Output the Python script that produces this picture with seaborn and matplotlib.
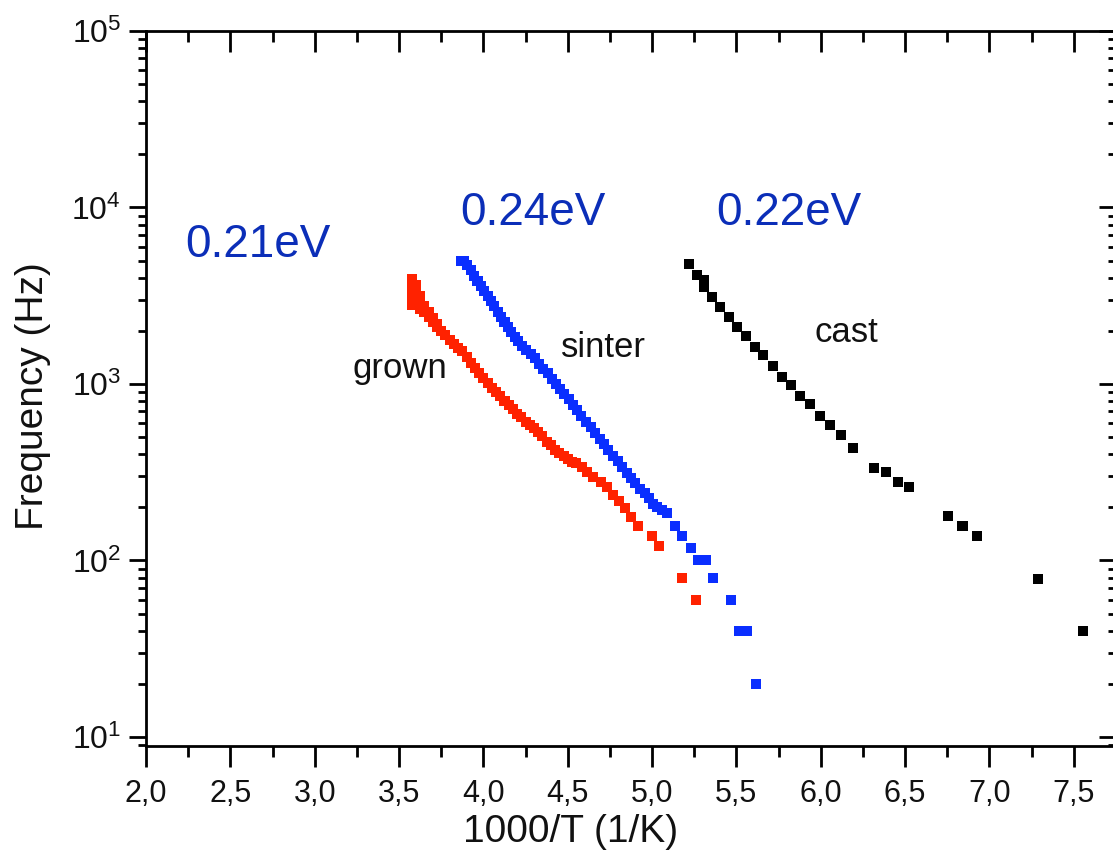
import numpy as np
import pandas as pd
import matplotlib
matplotlib.use('Agg')
import matplotlib.pyplot as plt
import matplotlib.ticker as mticker
import seaborn as sns

# grown (red)
grown_x = [3.575, 3.575, 3.575, 3.575, 3.575, 3.575,
           3.600, 3.600, 3.600, 3.600,
           3.625, 3.625, 3.625, 3.650, 3.650, 3.675, 3.675, 3.700, 3.700,
           3.725, 3.725, 3.750, 3.775, 3.800, 3.825, 3.850, 3.875, 3.900,
           3.925, 3.950, 3.975, 4.000, 4.025, 4.050, 4.075, 4.100, 4.125,
           4.150, 4.175, 4.200, 4.225, 4.250, 4.275, 4.300, 4.325, 4.350,
           4.375, 4.400, 4.425, 4.450, 4.475, 4.500, 4.525, 4.550, 4.583,
           4.615, 4.652, 4.695, 4.734, 4.770, 4.804, 4.840, 4.873, 4.914,
           5.000, 5.043, 5.175, 5.260]
grown_f = [3950, 3700, 3450, 3200, 2950, 2800,
           3650, 3350, 3100, 2850,
           3150, 2900, 2650, 2750, 2550, 2550, 2400, 2350, 2250,
           2200, 2100, 2000, 1900, 1780, 1680, 1600, 1530, 1420,
           1320, 1230, 1150, 1080, 1010, 950, 900, 850, 800,
           760, 720, 680, 650, 610, 585, 560, 535, 505,
           470, 450, 425, 405, 390, 375, 362, 355, 340,
           318, 298, 277, 262, 235, 218, 198, 177, 156,
           138, 120, 80, 60]

# sinter (blue)
sinter_x = [3.865, 3.886, 3.905, 3.925, 3.945, 3.965, 3.985, 4.005, 4.025,
            4.045, 4.065, 4.085, 4.105, 4.125, 4.145, 4.165, 4.185, 4.205,
            4.230, 4.255, 4.280, 4.305, 4.330, 4.355, 4.380, 4.405, 4.430,
            4.455, 4.480, 4.505, 4.530, 4.555, 4.580, 4.610, 4.635, 4.660,
            4.690, 4.715, 4.740, 4.770, 4.795, 4.820, 4.850, 4.875, 4.900,
            4.930, 4.955, 4.980, 5.005, 5.030, 5.060, 5.090,
            5.136, 5.179, 5.229, 5.275, 5.320, 5.363, 5.466, 5.515, 5.565, 5.616]
sinter_f = [5000, 5000, 4700, 4400, 4100, 3850, 3600, 3350, 3150,
            2950, 2750, 2550, 2400, 2250, 2100, 1980, 1850, 1750,
            1650, 1560, 1480, 1400, 1300, 1220, 1150, 1070, 1000,
            940, 880, 820, 760, 710, 660, 610, 570, 530,
            490, 455, 420, 390, 365, 340, 315, 295, 275,
            255, 240, 225, 210, 200, 192, 185,
            157, 138, 118, 100, 100, 80, 60, 40, 40, 20]

# cast (black)
cast_x = [5.22, 5.265, 5.31, 5.31, 5.355, 5.40, 5.455, 5.505, 5.555, 5.61,
          5.66, 5.715, 5.77, 5.825, 5.875, 5.935, 5.995, 6.055, 6.12, 6.19,
          6.315, 6.385, 6.455, 6.525, 6.755, 6.84, 6.925, 7.285, 7.555]
cast_f = [4800, 4150, 3900, 3550, 3130, 2740, 2390, 2100, 1870, 1630,
          1460, 1270, 1100, 985, 855, 770, 660, 585, 512, 435,
          335, 317, 280, 260, 178, 156, 137, 79, 40]

energies = ['0.21eV', '0.24eV', '0.22eV']
energy_pos = [(2.664, 6100), (4.294, 9300), (5.811, 9300)]
names = ['grown', 'sinter', 'cast']
name_pos = [(3.506, 1230), (4.709, 1600), (6.149, 1970)]

df = pd.concat([
    pd.DataFrame({'x': grown_x, 'f': grown_f, 'sample': 'grown'}),
    pd.DataFrame({'x': sinter_x, 'f': sinter_f, 'sample': 'sinter'}),
    pd.DataFrame({'x': cast_x, 'f': cast_f, 'sample': 'cast'}),
])

sns.set_theme(style='ticks')
plt.rcParams['font.family'] = ['Liberation Sans', 'DejaVu Sans']
plt.rcParams['mathtext.default'] = 'regular'

fig = plt.figure(figsize=(11.13, 8.61), dpi=100)
ax = fig.add_axes([0.1312, 0.1336, 0.8715, 0.8304])

sns.scatterplot(data=df, x='x', y='f', hue='sample', ax=ax,
                palette={'grown': '#ff2200', 'sinter': '#0a2eff', 'cast': '#000000'},
                marker='s', s=52, linewidth=0, legend=False)

ax.set_yscale('log')
ax.set_xlim(2.0, 7.75)
ax.set_ylim(8.89, 1e5)

ax.xaxis.set_major_locator(mticker.MultipleLocator(0.5))
ax.xaxis.set_minor_locator(mticker.MultipleLocator(0.25))
ax.xaxis.set_major_formatter(mticker.FuncFormatter(
    lambda v, p: ('%.1f' % v).replace('.', ',') if v < 7.6 else ''))
ax.yaxis.set_major_locator(mticker.LogLocator(base=10, numticks=10))
ax.yaxis.set_minor_locator(mticker.LogLocator(base=10, subs=np.arange(2, 10), numticks=20))
ax.yaxis.set_minor_formatter(mticker.NullFormatter())
ax.yaxis.set_major_formatter(mticker.FuncFormatter(
    lambda v, p: '$10^{%d}$' % round(np.log10(v))))

for s in ax.spines.values():
    s.set_linewidth(2)
    s.set_color('black')

ax.tick_params(axis='x', which='both', bottom=True, top=True, width=2, color='black')
ax.tick_params(axis='x', which='major', length=15, labelsize=22, pad=9, labelcolor='#111111')
ax.tick_params(axis='x', which='minor', length=8)
ax.tick_params(axis='y', which='both', left=True, right=True, width=2, color='black')
ax.tick_params(axis='y', which='major', length=12, labelsize=23, pad=6, labelcolor='#111111')
ax.tick_params(axis='y', which='minor', length=6)
# Origin style: inward ticks on top and right
for t in ax.xaxis.get_major_ticks() + ax.xaxis.get_minor_ticks():
    t.tick2line.set_marker(matplotlib.lines.TICKDOWN)
for t in ax.yaxis.get_major_ticks() + ax.yaxis.get_minor_ticks():
    t.tick2line.set_marker(matplotlib.lines.TICKLEFT)

ax.set_xlabel('1000/T (1/K)', fontsize=28, color='#111111')
ax.xaxis.set_label_coords(0.438, -0.095)
ax.set_ylabel('Frequency (Hz)', fontsize=28, color='#111111')
ax.yaxis.set_label_coords(-0.098, 0.49)

for txt, (tx, ty) in zip(energies, energy_pos):
    ax.text(tx, ty, txt, fontsize=33, color='#0b2eb8', ha='center', va='center')
for txt, (tx, ty) in zip(names, name_pos):
    ax.text(tx, ty, txt, fontsize=25, color='#111111', ha='center', va='center')

fig.savefig('out.png', dpi=100)
